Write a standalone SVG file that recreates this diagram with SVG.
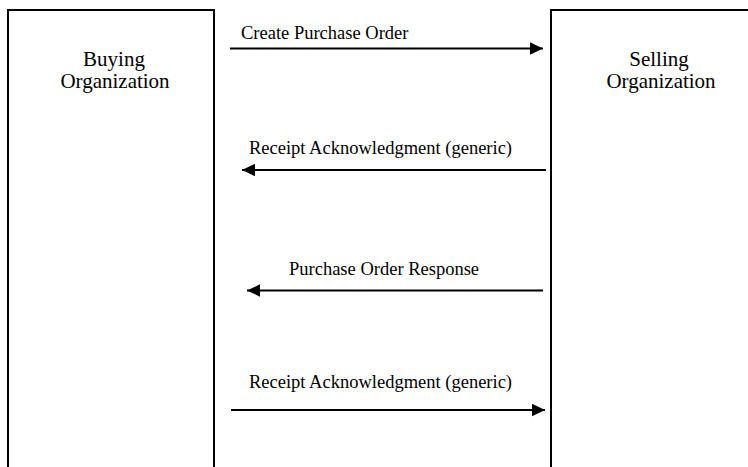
<svg xmlns="http://www.w3.org/2000/svg" width="748" height="467" viewBox="0 0 748 467">
<style>
.box{fill:#fff;stroke:#000;stroke-width:2}
.title{font-family:"Liberation Serif","Times New Roman",serif;font-size:21px;fill:#000;text-anchor:middle}
.lbl{font-family:"Liberation Serif","Times New Roman",serif;font-size:18.5px;fill:#000}
.msg{stroke:#000;stroke-width:2.2;fill:none}
</style>
<defs>
<marker id="ah" markerUnits="userSpaceOnUse" markerWidth="14" markerHeight="14" viewBox="0 0 14 14" refX="13" refY="7" orient="auto">
<path d="M0,0.8 L13,7 L0,13.2 Z" fill="#000"/>
</marker>
</defs>
<rect width="748" height="467" fill="#fff"/>
<g id="buying">
<rect class="box" x="8" y="10" width="206" height="480"/>
<text class="title" x="114" y="66">Buying</text>
<text class="title" x="115" y="88">Organization</text>
</g>
<g id="selling">
<rect class="box" x="551" y="10" width="300" height="480"/>
<text class="title" x="659" y="66">Selling</text>
<text class="title" x="661" y="88">Organization</text>
</g>
<g id="connectors">
<line class="msg" x1="230" y1="48.5" x2="543" y2="48.5" marker-end="url(#ah)"/>
<text class="lbl" x="241" y="39">Create Purchase Order</text>
<line class="msg" x1="546" y1="170" x2="242" y2="170" marker-end="url(#ah)"/>
<text class="lbl" x="249" y="154">Receipt Acknowledgment (generic)</text>
<line class="msg" x1="543" y1="290.5" x2="247" y2="290.5" marker-end="url(#ah)"/>
<text class="lbl" x="289" y="274.5">Purchase Order Response</text>
<line class="msg" x1="231" y1="410" x2="545" y2="410" marker-end="url(#ah)"/>
<text class="lbl" x="249" y="387.5">Receipt Acknowledgment (generic)</text>
</g>
</svg>
